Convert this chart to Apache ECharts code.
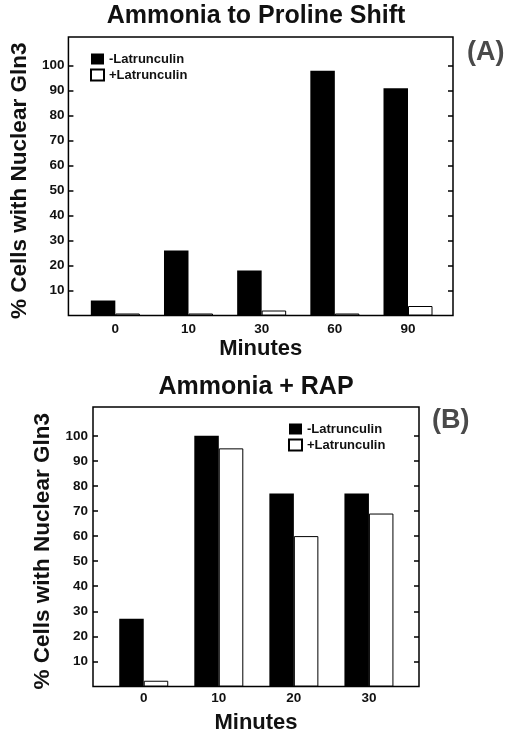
<!DOCTYPE html>
<html>
<head>
<meta charset="utf-8">
<script src="https://cdn.jsdelivr.net/npm/echarts@6/dist/echarts.min.js"></script>
<style>
html,body{margin:0;padding:0;background:#fff;}
#chart{width:512px;height:735px;}
</style>
</head>
<body>
<div id="chart"></div>
<script>
// ---- Data ----
const titleA = 'Ammonia to Proline Shift';
const titleB = 'Ammonia + RAP';
const panelLabelA = '(A)';
const panelLabelB = '(B)';
const yAxisTitle = '% Cells with Nuclear Gln3';
const xAxisTitle = 'Minutes';
const seriesNames = ['-Latrunculin', '+Latrunculin'];

const categoriesA = ['0', '10', '30', '60', '90'];
const minusLatA = [6, 26, 18, 98, 91];
const plusLatA = [0.8, 0.8, 2, 0.8, 3.8];

const categoriesB = ['0', '10', '20', '30'];
const minusLatB = [27, 100, 77, 77];
const plusLatB = [2.3, 95, 60, 69];

const yTickValues = [10, 20, 30, 40, 50, 60, 70, 80, 90, 100];

// ---- Chart ----
const FONT = '"Liberation Sans", Arial, Helvetica, sans-serif';
const TXT = '#111';
const chart = echarts.init(document.getElementById('chart'), null, {renderer: 'canvas'});

function xAxisFor(gridIndex, cats, min, max, labelMargin, nameGap) {
  return {
    gridIndex, type: 'value', min, max,
    axisLine: {show: false, onZero: false}, axisTick: {show: false}, splitLine: {show: false},
    axisLabel: {
      customValues: cats.map((c, i) => i),
      formatter: v => cats[Math.round(v)],
      margin: labelMargin, fontSize: 13.5, fontWeight: 'bold', color: TXT, fontFamily: FONT
    },
    name: xAxisTitle, nameLocation: 'middle', nameGap,
    nameTextStyle: {fontSize: 22, fontWeight: 'bold', color: TXT, fontFamily: FONT}
  };
}
function yAxesFor(gridIndex, labelMargin, nameGap) {
  const common = {
    gridIndex, type: 'value', min: 0, max: 111.5,
    splitLine: {show: false},
    axisLine: {show: false, onZero: false},
    axisTick: {show: true, inside: true, length: 5, customValues: yTickValues, lineStyle: {color: '#000', width: 1.5}}
  };
  return [
    Object.assign({}, common, {
      position: 'left',
      axisLabel: {customValues: yTickValues, margin: labelMargin, fontSize: 13.5, fontWeight: 'bold', color: TXT, fontFamily: FONT},
      name: yAxisTitle, nameLocation: 'middle', nameGap, nameRotate: 90,
      nameTextStyle: {fontSize: 22.5, fontWeight: 'bold', color: TXT, fontFamily: FONT, padding: [0, 9, 0, 0]}
    }),
    Object.assign({}, common, {position: 'right', axisLabel: {show: false}})
  ];
}
function barSeries(name, vals, xi, yi, filled) {
  return {
    type: 'bar', name, xAxisIndex: xi, yAxisIndex: yi,
    data: vals.map((v, i) => [i, v]),
    barWidth: 24.5, barGap: '0%',
    itemStyle: filled ? {color: '#000', borderColor: '#000', borderWidth: 0}
                      : {color: '#fff', borderColor: '#000', borderWidth: 1}
  };
}
function legendAt(left, top) {
  return {
    data: seriesNames, orient: 'vertical', left, top, padding: 0,
    icon: 'rect', itemWidth: 13, itemHeight: 11, itemGap: 2,
    selectedMode: false,
    textStyle: {fontSize: 13, fontWeight: 'bold', color: TXT, fontFamily: FONT, lineHeight: 14, padding: [0, 0, 0, 0]}
  };
}

const option = {
  animation: false,
  backgroundColor: '#fff',
  title: [
    {text: titleA, left: 'center', top: 4, padding: 0, textStyle: {fontSize: 25, fontWeight: 'bold', color: TXT, fontFamily: FONT}},
    {text: titleB, left: 'center', top: 375, padding: 0, textStyle: {fontSize: 25, fontWeight: 'bold', color: TXT, fontFamily: FONT}},
    {text: panelLabelA, left: 467, top: 39, padding: 0, textStyle: {fontSize: 27, fontWeight: 'bold', color: '#4a4a4a', fontFamily: FONT}},
    {text: panelLabelB, left: 432, top: 407, padding: 0, textStyle: {fontSize: 27, fontWeight: 'bold', color: '#4a4a4a', fontFamily: FONT}}
  ],
  legend: [legendAt(90, 52), legendAt(288, 422)],
  grid: [
    {left: 59, right: 59, top: 37, height: 278.5, show: true, borderColor: '#000', borderWidth: 1.5, backgroundColor: 'transparent', containLabel: false},
    {left: 93, right: 93, top: 407, height: 279.5, show: true, borderColor: '#000', borderWidth: 1.5, backgroundColor: 'transparent', containLabel: false}
  ],
  xAxis: [
    xAxisFor(0, categoriesA, -0.641, 4.615, 7, 22),
    xAxisFor(1, categoriesB, -0.676, 3.667, 5, 25)
  ],
  yAxis: [].concat(yAxesFor(0, 4, 33), yAxesFor(1, 5, 34)),
  series: [
    barSeries(seriesNames[0], minusLatA, 0, 0, true),
    barSeries(seriesNames[1], plusLatA, 0, 0, false),
    barSeries(seriesNames[0], minusLatB, 1, 2, true),
    barSeries(seriesNames[1], plusLatB, 1, 2, false)
  ]
};
chart.setOption(option);
</script>
</body>
</html>
